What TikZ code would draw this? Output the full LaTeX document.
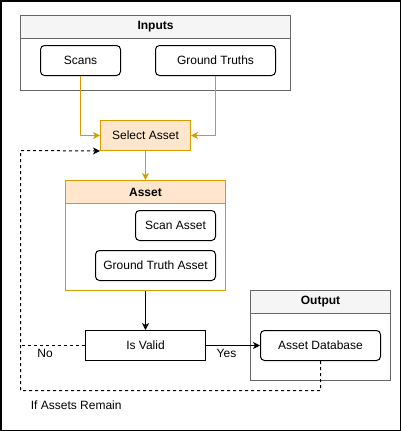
\documentclass[tikz,border=0pt]{standalone}
\usepackage{fontspec}
\setmainfont{Liberation Sans}
\usetikzlibrary{arrows.meta}
\definecolor{goldline}{HTML}{D79B00}
\definecolor{orangefill}{HTML}{FFE6CC}
\definecolor{headfill}{HTML}{F5F5F5}
\definecolor{framegray}{HTML}{666666}
\tikzset{
  >={Stealth[length=7pt,width=7pt,inset=2pt]},
}
\tikzstyle{every node}=[font=\fontsize{12}{14}\selectfont,inner sep=0pt]
\tikzstyle{item}=[draw,line width=1pt,rounded corners=4pt,minimum height=30pt]
\tikzstyle{plain}=[draw,line width=1pt,minimum height=30pt]
\tikzstyle{frame}=[draw=framegray,line width=1pt]
\tikzstyle{head}=[draw=framegray,fill=headfill,line width=1pt,minimum height=23pt,anchor=north,font=\fontsize{12}{14}\selectfont\bfseries]
\tikzstyle{flow}=[line width=1pt,->]
\tikzstyle{back}=[line width=1pt,dash pattern=on 3pt off 3pt]

\begin{document}
\begin{tikzpicture}[x=1pt,y=-1pt]
    \useasboundingbox (0,0) rectangle (401,431);
    \draw[line width=1.5pt] (0.75,0.75) rectangle (400.25,430.25);
    % inputs
    \node[frame,minimum width=270pt,minimum height=75pt] (inputs) at (155.5,52.5) {};
    \node[head,minimum width=270pt] (inhead) at (inputs.north) {Inputs};
    \node[item,minimum width=80pt] (scans) at (80.5,60.5) {Scans};
    \node[item,minimum width=120pt] (truths) at (215.5,60.5) {Ground Truths};
    \node[plain,draw=goldline,fill=orangefill,minimum width=90pt] (select) at (145.5,135.5) {Select Asset};
    % asset
    \node[frame,draw=goldline,minimum width=160pt,minimum height=110pt] (asset) at (145.5,235.5) {};
    \node[head,draw=goldline,fill=orangefill,minimum width=160pt] (asshead) at (asset.north) {Asset};
    \node[item,minimum width=80pt] (scanasset) at (175.5,225.5) {Scan Asset};
    \node[item,minimum width=120pt] (truthasset) at (155.5,265.5) {Ground Truth Asset};
    \node[plain,minimum width=120pt] (valid) at (145.5,345.5) {Is Valid};
    % output
    \node[frame,minimum width=140pt,minimum height=90pt] (output) at (320.5,335.5) {};
    \node[head,minimum width=140pt] (outhead) at (output.north) {Output};
    \node[item,minimum width=120pt] (database) at (320.5,345.5) {Asset Database};
    % arrows
    \draw[flow,goldline] (scans.south) |- (select.west);
    \draw[flow,goldline] (truths.south) |- (select.east);
    \draw[flow,goldline] (select.south) -- (asshead.north);
    \draw[flow] (asset.south) -- (valid.north);
    \draw[flow] (valid.east) -- (database.west) node[pos=.38,below=3pt]{Yes};
    \coordinate (loopdown) at (20.5,390.5);
    \coordinate (loopup) at (20.5,150.5);
    \draw[back] (valid.west) -- (valid.west -| loopup) node[pos=.62,below=3pt]{No};
    \draw[back,->] (database.south) |- (loopdown) -- (loopup) -- (select.south west);
    \node[anchor=west] (remain) at (30.7,405) {If Assets Remain};
\end{tikzpicture}
\end{document}
